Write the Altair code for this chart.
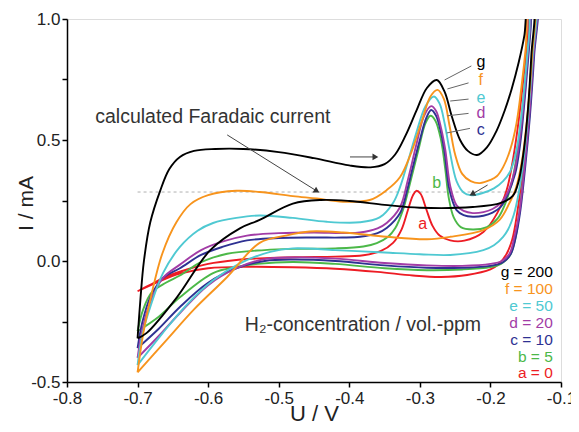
import altair as alt
import pandas as pd

# ---------------- data ----------------
names = ["a", "b", "c", "d", "e", "f", "g"]
colors = ["#ed1c24", "#4cb848", "#2e3192", "#a23ca6", "#4fc9d2", "#f7941d", "#000000"]

a_u = [-0.700, -0.680, -0.660, -0.630, -0.600, -0.560, -0.520, -0.470, -0.420, -0.380, -0.355, -0.338, -0.326,
       -0.317, -0.310, -0.305, -0.299, -0.291, -0.282, -0.272, -0.257, -0.237, -0.210, -0.190, -0.177, -0.168,
       -0.160, -0.153, -0.147, -0.143,
       -0.137, -0.141, -0.147, -0.154, -0.162, -0.169, -0.177, -0.188, -0.200, -0.233, -0.270, -0.310, -0.360,
       -0.420, -0.480, -0.540, -0.600, -0.640, -0.670, -0.700]
a_i = [-0.125, -0.095, -0.065, -0.035, -0.012, 0.004, 0.012, 0.016, 0.018, 0.024, 0.042, 0.075, 0.130,
       0.210, 0.270, 0.290, 0.278, 0.215, 0.145, 0.105, 0.085, 0.084, 0.120, 0.200, 0.293, 0.420,
       0.580, 0.760, 0.920, 1.060,
       1.060, 0.850, 0.600, 0.380, 0.200, 0.090, 0.030, -0.012, -0.035, -0.058, -0.066, -0.060, -0.045,
       -0.032, -0.026, -0.024, -0.030, -0.052, -0.085, -0.125]

b_u = [-0.700, -0.692, -0.680, -0.660, -0.640, -0.610, -0.573, -0.520, -0.480, -0.420, -0.380, -0.361, -0.345,
       -0.335, -0.324, -0.314, -0.302, -0.292, -0.285, -0.278, -0.270, -0.264, -0.259, -0.252, -0.242, -0.225,
       -0.205, -0.190, -0.180, -0.170, -0.162, -0.155, -0.149, -0.144, -0.141,
       -0.135, -0.139, -0.145, -0.152, -0.159, -0.165, -0.172, -0.185, -0.200, -0.240, -0.290, -0.350, -0.420,
       -0.480, -0.530, -0.560, -0.593, -0.640, -0.670, -0.700]
b_i = [-0.290, -0.200, -0.130, -0.090, -0.060, -0.005, 0.030, 0.045, 0.050, 0.052, 0.060, 0.074, 0.100,
       0.135, 0.210, 0.320, 0.460, 0.570, 0.600, 0.580, 0.500, 0.380, 0.260, 0.180, 0.140, 0.130,
       0.140, 0.175, 0.230, 0.320, 0.450, 0.620, 0.800, 0.950, 1.060,
       1.060, 0.850, 0.600, 0.380, 0.200, 0.090, 0.025, -0.012, -0.025, -0.035, -0.038, -0.030, -0.012,
       -0.004, -0.012, -0.025, -0.050, -0.150, -0.230, -0.290]

c_u = [-0.700, -0.693, -0.682, -0.664, -0.640, -0.610, -0.580, -0.545, -0.500, -0.450, -0.410, -0.385, -0.360,
       -0.347, -0.328, -0.318, -0.311, -0.300, -0.291, -0.284, -0.277, -0.270, -0.265, -0.258, -0.248, -0.238,
       -0.225, -0.210, -0.197, -0.185, -0.177, -0.165, -0.158, -0.152, -0.147, -0.143, -0.140,
       -0.134, -0.138, -0.144, -0.151, -0.158, -0.164, -0.171, -0.182, -0.200, -0.240, -0.290, -0.350, -0.420,
       -0.480, -0.520, -0.560, -0.600, -0.640, -0.670, -0.700]
c_i = [-0.360, -0.250, -0.150, -0.070, -0.030, 0.025, 0.058, 0.085, 0.095, 0.097, 0.097, 0.100, 0.115,
       0.136, 0.198, 0.293, 0.376, 0.500, 0.590, 0.624, 0.600, 0.530, 0.450, 0.293, 0.210, 0.190,
       0.183, 0.187, 0.200, 0.225, 0.265, 0.360, 0.480, 0.650, 0.820, 0.960, 1.060,
       1.060, 0.850, 0.600, 0.380, 0.200, 0.100, 0.030, -0.005, -0.020, -0.028, -0.028, -0.018, 0.000,
       0.006, 0.000, -0.030, -0.090, -0.190, -0.280, -0.360]

d_u = [-0.700, -0.693, -0.682, -0.664, -0.640, -0.610, -0.580, -0.545, -0.500, -0.450, -0.410, -0.385, -0.360,
       -0.347, -0.328, -0.317, -0.305, -0.294, -0.284, -0.277, -0.270, -0.264, -0.257, -0.248, -0.238, -0.225,
       -0.210, -0.197, -0.185, -0.176, -0.166, -0.159, -0.153, -0.148, -0.144, -0.141,
       -0.135, -0.139, -0.145, -0.152, -0.159, -0.166, -0.173, -0.184, -0.200, -0.240, -0.290, -0.350, -0.420,
       -0.480, -0.520, -0.560, -0.600, -0.640, -0.670, -0.700]
d_i = [-0.400, -0.280, -0.170, -0.070, -0.015, 0.045, 0.080, 0.105, 0.115, 0.118, 0.116, 0.118, 0.135,
       0.157, 0.223, 0.335, 0.480, 0.600, 0.640, 0.620, 0.550, 0.460, 0.310, 0.230, 0.207, 0.198,
       0.202, 0.215, 0.240, 0.280, 0.370, 0.490, 0.650, 0.820, 0.960, 1.060,
       1.060, 0.850, 0.600, 0.380, 0.200, 0.100, 0.030, 0.000, -0.012, -0.020, -0.018, -0.008, 0.010,
       0.015, 0.008, -0.030, -0.100, -0.215, -0.310, -0.400]

e_u = [-0.700, -0.693, -0.682, -0.664, -0.640, -0.615, -0.593, -0.560, -0.527, -0.480, -0.432, -0.385, -0.357,
       -0.338, -0.328, -0.318, -0.305, -0.292, -0.280, -0.272, -0.265, -0.258, -0.248, -0.238, -0.228, -0.212,
       -0.195, -0.182, -0.172, -0.163, -0.156, -0.150, -0.145, -0.142,
       -0.136, -0.140, -0.146, -0.153, -0.160, -0.167, -0.175, -0.182, -0.195, -0.210, -0.257, -0.300, -0.350,
       -0.420, -0.480, -0.512, -0.555, -0.593, -0.630, -0.665, -0.700]
e_i = [-0.430, -0.300, -0.190, -0.050, 0.058, 0.125, 0.157, 0.178, 0.188, 0.178, 0.162, 0.160, 0.180,
       0.240, 0.306, 0.400, 0.530, 0.640, 0.680, 0.650, 0.570, 0.460, 0.330, 0.283, 0.272, 0.280,
       0.300, 0.330, 0.370, 0.460, 0.600, 0.780, 0.940, 1.060,
       1.060, 0.850, 0.620, 0.420, 0.280, 0.190, 0.130, 0.100, 0.065, 0.045, 0.025, 0.028, 0.035,
       0.045, 0.052, 0.038, -0.010, -0.080, -0.180, -0.300, -0.430]

f_u = [-0.700, -0.692, -0.682, -0.665, -0.645, -0.625, -0.600, -0.560, -0.527, -0.480, -0.446, -0.409, -0.371,
       -0.347, -0.328, -0.312, -0.297, -0.285, -0.275, -0.266, -0.258, -0.250, -0.240, -0.228, -0.215, -0.200,
       -0.191, -0.182, -0.172, -0.163, -0.156, -0.150, -0.145,
       -0.138, -0.141, -0.147, -0.155, -0.164, -0.173, -0.187, -0.210, -0.257, -0.290, -0.347, -0.409, -0.456,
       -0.490, -0.527, -0.573, -0.620, -0.660, -0.700]
f_i = [-0.460, -0.300, -0.160, 0.030, 0.160, 0.235, 0.272, 0.290, 0.285, 0.268, 0.258, 0.245, 0.252,
       0.293, 0.347, 0.450, 0.580, 0.680, 0.707, 0.670, 0.560, 0.440, 0.360, 0.330, 0.322, 0.335,
       0.350, 0.388, 0.460, 0.570, 0.720, 0.880, 1.060,
       1.060, 0.850, 0.620, 0.420, 0.300, 0.240, 0.170, 0.128, 0.100, 0.090, 0.100, 0.118, 0.122,
       0.105, 0.075, -0.066, -0.200, -0.330, -0.460]

g_u = [-0.700, -0.696, -0.691, -0.682, -0.668, -0.655, -0.640, -0.620, -0.590, -0.550, -0.500, -0.450, -0.400,
       -0.370, -0.350, -0.335, -0.320, -0.305, -0.290, -0.276, -0.265, -0.255, -0.243, -0.232, -0.219, -0.205,
       -0.191, -0.180, -0.170, -0.160, -0.152, -0.146,
       -0.139, -0.142, -0.147, -0.153, -0.160, -0.168, -0.185, -0.225, -0.300, -0.350, -0.400, -0.440, -0.480,
       -0.527, -0.555, -0.597, -0.644, -0.687, -0.700]
g_i = [-0.320, -0.160, 0.000, 0.160, 0.290, 0.380, 0.430, 0.455, 0.463, 0.463, 0.450, 0.425, 0.395,
       0.387, 0.400, 0.440, 0.520, 0.620, 0.715, 0.748, 0.700, 0.600, 0.500, 0.455, 0.438, 0.470,
       0.540, 0.620, 0.710, 0.820, 0.930, 1.060,
       1.060, 0.850, 0.620, 0.450, 0.330, 0.270, 0.240, 0.223, 0.220, 0.232, 0.248, 0.252, 0.237,
       0.170, 0.135, 0.045, -0.149, -0.297, -0.320]

curve_u = [a_u, b_u, c_u, d_u, e_u, f_u, g_u]
curve_i = [a_i, b_i, c_i, d_i, e_i, f_i, g_i]

# curve labels near the peaks
peak_lbl = ["g", "f", "e", "d", "c", "b", "a"]
peak_lbl_u = [-0.2136, -0.2136, -0.2136, -0.2136, -0.2136, -0.276, -0.296]
peak_lbl_i = [0.822, 0.748, 0.675, 0.610, 0.541, 0.322, 0.153]
peak_lbl_col = ["#000000", "#f7941d", "#4fc9d2", "#a23ca6", "#2e3192", "#4cb848", "#ed1c24"]

# leader lines g..c
lead_u = [-0.227, -0.231, -0.231, -0.231, -0.229]
lead_i = [0.806, 0.736, 0.669, 0.610, 0.548]
lead_u2 = [-0.265, -0.261, -0.257, -0.261, -0.262]
lead_i2 = [0.748, 0.711, 0.661, 0.600, 0.529]

# concentration legend
leg_txt = ["g = 200", "f = 100", "e = 50", "d = 20", "c = 10", "b = 5", "a = 0"]
leg_i = [-0.045, -0.116, -0.186, -0.256, -0.326, -0.397, -0.463]

# arrows: start, end (tip) and angle of head
arr_u = [-0.573, -0.399, -0.204]
arr_i = [0.521, 0.430, 0.314]
arr_u2 = [-0.446, -0.363, -0.226]
arr_i2 = [0.289, 0.430, 0.276]
arr_ang = [31.5, 0.0, 151.0]

# ---------------- build tables ----------------
rows = []
for n, us, iis in zip(names, curve_u, curve_i):
    for k, (u, i) in enumerate(zip(us, iis)):
        rows.append({"curve": n, "U": u, "I": i, "k": k})
df = pd.DataFrame(rows)

FONT = "Liberation Sans"
xs = alt.Scale(domain=[-0.8, -0.1], nice=False, zero=False)
ys = alt.Scale(domain=[-0.5, 1.0], nice=False, zero=False)

x_axis = alt.Axis(values=[-0.8, -0.7, -0.6, -0.5, -0.4, -0.3, -0.2, -0.1],
                  labelExpr="(datum.value < 0 ? '-' : '') + format(abs(datum.value), '.1f')",
                  grid=False, tickSize=5, tickWidth=1.5, domainWidth=1.5, domainColor="black",
                  tickColor="black", labelFontSize=17, labelColor="#222", labelPadding=3,
                  titleFontSize=22, titleFontWeight="normal", titleColor="#222",
                  titleY=38, titleBaseline="alphabetic", labelFlush=False)
y_axis = alt.Axis(values=[-0.5, -0.25, 0.0, 0.25, 0.5, 0.75, 1.0],
                  labelExpr="abs(datum.value*2 - round(datum.value*2)) < 0.001 ? "
                            "(datum.value < 0 ? '-' : '') + format(abs(datum.value), '.1f') : ''",
                  grid=False, tickSize=5, tickWidth=1.5, domainWidth=1.5, domainColor="black",
                  tickColor="black", labelFontSize=17, labelColor="#222", labelPadding=2,
                  titleFontSize=21, titleFontWeight="normal", titleColor="#222",
                  titleX=-41, titleY=184, titleBaseline="middle", labelFlush=False)


def X(field="U"):
    return alt.X(f"{field}:Q", scale=xs, axis=x_axis, title="U / V")


def Y(field="I"):
    return alt.Y(f"{field}:Q", scale=ys, axis=y_axis, title="I / mA")


dash_df = pd.DataFrame({"U": [-0.700], "U2": [-0.150], "I": [0.285]})
dash = alt.Chart(dash_df).mark_rule(color="#b0b0b0", strokeDash=[3, 3], strokeWidth=1).encode(
    x=X(), x2="U2:Q", y=Y())

lines = alt.Chart(df).mark_line(clip=True, strokeWidth=1.9, interpolate="catmull-rom").encode(
    x=X(), y=Y(),
    color=alt.Color("curve:N", scale=alt.Scale(domain=names, range=colors), legend=None),
    order=alt.Order("k:Q"))

lead_df = pd.DataFrame({"U": lead_u, "I": lead_i, "U2": lead_u2, "I2": lead_i2})
leads = alt.Chart(lead_df).mark_rule(color="#666666", strokeWidth=1).encode(
    x=X(), y=Y(), x2="U2:Q", y2="I2:Q")

arr_df = pd.DataFrame({"U": arr_u, "I": arr_i, "U2": arr_u2, "I2": arr_i2, "ang": arr_ang})
arr_lines = alt.Chart(arr_df).mark_rule(color="#444444", strokeWidth=1).encode(
    x=X(), y=Y(), x2="U2:Q", y2="I2:Q")
heads_df = pd.DataFrame({"U": arr_u2, "I": arr_i2, "ang": arr_ang})
arr_heads = alt.Chart(heads_df).mark_point(shape="triangle-right", filled=True, size=45,
                                           color="#333333", opacity=1).encode(
    x=X(), y=Y(), angle=alt.Angle("ang:Q", scale=None))

plbl_df = pd.DataFrame({"U": peak_lbl_u, "I": peak_lbl_i, "t": peak_lbl, "c": peak_lbl_col})
plbl = alt.Chart(plbl_df).mark_text(fontSize=16, font=FONT, align="center", baseline="middle").encode(
    x=X(), y=Y(), text="t:N", color=alt.Color("c:N", scale=None))

leg_df = pd.DataFrame({"U": [-0.1116] * 7, "I": leg_i, "t": leg_txt, "c": peak_lbl_col})
legend = alt.Chart(leg_df).mark_text(fontSize=15.5, font=FONT, align="right", baseline="middle").encode(
    x=X(), y=Y(), text="t:N", color=alt.Color("c:N", scale=None))

txt_df = pd.DataFrame({"U": [-0.760, -0.548], "I": [0.595, -0.264],
                       "t": ["calculated Faradaic current", "H\u2082-concentration / vol.-ppm"]})
texts = alt.Chart(txt_df).mark_text(fontSize=19.5, font=FONT, align="left", baseline="middle",
                                    color="#333333").encode(x=X(), y=Y(), text="t:N")

chart = alt.layer(dash, lines, leads, arr_lines, arr_heads, plbl, legend, texts).properties(
    width=494, height=363,
    autosize=alt.AutoSizeParams(type="none"),
    padding={"left": 59, "top": 11, "right": 10, "bottom": 42},
).configure_view(stroke="black", strokeWidth=1.5).configure(font=FONT)

chart.save("out.html", embed_options={"renderer": "svg", "actions": False})
